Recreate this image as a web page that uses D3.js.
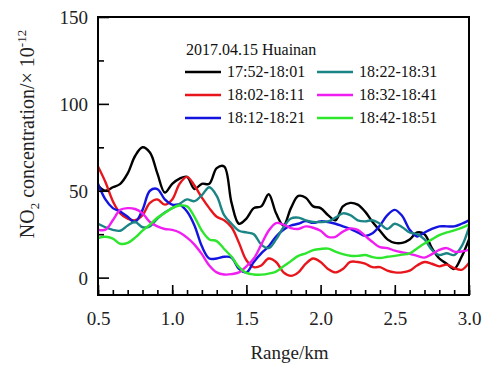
<!DOCTYPE html>
<html>
<head>
<meta charset="utf-8">
<script src="https://cdn.jsdelivr.net/npm/d3@7"></script>
<style>
  body { margin: 0; background: #fff; }
  svg { font-family: "Liberation Serif", "Times New Roman", serif; }
  .axis path { display: none; }
  .axis line { stroke: #000; stroke-width: 1.6; }
  .axis text { font-size: 19px; fill: #222; font-family: "Liberation Serif", serif; }
  .legend text { font-size: 16px; fill: #111; }
</style>
</head>
<body>
<script>
// range in km, sampled every 0.05
const range = d3.range(51).map(i => +(0.5 + i * 0.05).toFixed(2));

const seriesNames = ["17:52-18:01", "18:02-18:11", "18:12-18:21", "18:22-18:31", "18:32-18:41", "18:42-18:51"];
const seriesColors = ["#000000", "#e8161c", "#1414e0", "#1b8585", "#f01ef0", "#2ee62e"];

const black = [53, 50, 52, 54, 60, 70, 75, 72, 60, 49, 54, 57, 58, 51, 54, 54, 63, 64, 43, 31,
  34, 40, 41, 48, 37, 30, 40, 47, 46, 41, 40, 36, 33, 41, 43, 42, 38, 32, 27, 22,
  20, 20, 22, 26, 25, 17, 11, 8, 5, 12, 22];
const red = [64, 55, 44, 37, 34, 33, 36, 43, 45, 42, 45, 54, 58, 53, 46, 40, 35, 33, 29, 20,
  10, 6, 7, 11, 9, 3, 1, 3, 8, 11, 9, 5, 3, 5, 9, 9, 8, 6, 6, 4,
  3, 3, 4, 7, 9, 8, 6.5, 7.5, 5.5, 4.5, 8.5];
const blue = [54, 45, 40, 38, 35, 32, 39, 50, 51, 45, 42, 42, 38, 30, 18, 11, 11, 12, 11.5, 5,
  3, 9, 14, 18, 23.7, 27.6, 30, 31, 32.5, 31.5, 32.4, 32, 31, 29.5, 28, 26, 24, 25.5, 30, 36,
  39, 35.5, 27.6, 23.7, 26, 28, 29.5, 29.5, 29.5, 31, 33];
const teal = [31, 29, 27.5, 27, 30, 32, 29, 29.5, 34, 37.5, 40, 42.5, 45, 44, 47.5, 52, 47, 36, 31, 27,
  26, 25, 19, 17, 22, 29, 34, 34.5, 33, 32, 32, 32.4, 34.5, 37, 36, 33, 32.4, 33, 31, 28,
  31, 29, 26, 25, 22, 16, 13, 14, 13, 18, 29];
const magenta = [27.6, 27.6, 33, 39, 40, 39.5, 37, 32, 29.5, 28, 27.5, 26, 23, 19, 13.5, 7, 3, 1.8, 2, 3,
  6.5, 11, 19, 27, 31.4, 30.5, 28.5, 28, 29.5, 28.7, 27, 23.5, 23.5, 26.5, 28.3, 27.5, 24, 20.5, 17.5, 17,
  15.5, 14.5, 13.7, 12.5, 11.5, 13.5, 16, 17, 15, 15, 16];
const green = [22.8, 23.5, 22.5, 19.5, 20, 23, 27, 30.5, 34.5, 37.2, 40, 41.5, 41, 35, 27, 22, 21, 16.5, 12, 6,
  2.7, 1.8, 1.7, 2.3, 3.5, 6.5, 9.5, 12.5, 14, 15.8, 16.5, 16.7, 15, 13.5, 12.6, 12.5, 13, 11.8, 11.3, 12,
  12.5, 13.2, 14, 16.8, 19.6, 22, 24.5, 26, 27.2, 28.6, 30.5];

const seriesValues = [black, red, blue, teal, magenta, green];

const xMajor = [0.5, 1.0, 1.5, 2.0, 2.5, 3.0];
const xMinor = d3.range(26).map(i => +(0.5 + i * 0.1).toFixed(1));
const yMajor = [0, 50, 100, 150];
const yMinor = [25, 75, 125];

const W = 489, H = 367;
const plot = {left: 98, right: 469, top: 17, bottom: 295};

const svg = d3.select("body").append("svg")
  .attr("width", W)
  .attr("height", H);

const x = d3.scaleLinear().domain([0.5, 3.0]).range([plot.left, plot.right]);
const y = d3.scaleLinear().domain([-10, 150]).range([plot.bottom, plot.top]);

svg.append("clipPath").attr("id", "clip")
  .append("rect")
  .attr("x", plot.left).attr("y", plot.top)
  .attr("width", plot.right - plot.left).attr("height", plot.bottom - plot.top);

const line = d3.line()
  .x((d, i) => x(range[i]))
  .y(d => y(d))
  .curve(d3.curveCatmullRom.alpha(0.5));

const lines = svg.append("g").attr("clip-path", "url(#clip)");
seriesValues.forEach((vals, k) => {
  lines.append("path")
    .attr("d", line(vals))
    .attr("fill", "none")
    .attr("stroke", seriesColors[k])
    .attr("stroke-width", 2.4)
    .attr("stroke-linejoin", "round");
});

// axes, ticks pointing inward
svg.append("g").attr("class", "axis")
  .attr("transform", "translate(0," + plot.bottom + ")")
  .call(d3.axisBottom(x).tickValues(xMinor).tickSize(-5).tickFormat(""));
svg.append("g").attr("class", "axis")
  .attr("transform", "translate(0," + plot.bottom + ")")
  .call(d3.axisBottom(x).tickValues(xMajor).tickSize(-10).tickPadding(16).tickFormat(d3.format(".1f")));

svg.append("g").attr("class", "axis")
  .attr("transform", "translate(" + plot.left + ",0)")
  .call(d3.axisLeft(y).tickValues(yMinor).tickSize(-6).tickFormat(""));
svg.append("g").attr("class", "axis")
  .attr("transform", "translate(" + plot.left + ",0)")
  .call(d3.axisLeft(y).tickValues(yMajor).tickSize(-11).tickPadding(10).tickFormat(d3.format("d")));

svg.selectAll(".axis text").attr("dy", "0.35em");
svg.selectAll(".axis").filter((d, i) => i === 1).selectAll("text").attr("dy", "0.75em");

// frame
svg.append("rect")
  .attr("x", plot.left).attr("y", plot.top)
  .attr("width", plot.right - plot.left).attr("height", plot.bottom - plot.top)
  .attr("fill", "none").attr("stroke", "#000").attr("stroke-width", 2);

// axis titles
svg.append("text")
  .attr("x", (plot.left + plot.right) / 2 + 6)
  .attr("y", 359)
  .attr("text-anchor", "middle")
  .style("font-size", "19px")
  .style("fill", "#222")
  .text("Range/km");

const yt = svg.append("text")
  .attr("transform", "translate(34,134) rotate(-90)")
  .attr("text-anchor", "middle")
  .style("font-size", "20px")
  .style("fill", "#222");
yt.append("tspan").text("NO");
yt.append("tspan").attr("dy", 5).style("font-size", "13px").text("2");
yt.append("tspan").attr("dy", -5).text(" concentration/× 10");
yt.append("tspan").attr("dy", -8).style("font-size", "13px").text("-12");

// legend
const legend = svg.append("g").attr("class", "legend");
legend.append("text").attr("x", 186).attr("y", 55).text("2017.04.15 Huainan");
const cols = [185, 317], rows = [72, 95, 118];
seriesNames.forEach((name, k) => {
  const cx = cols[Math.floor(k / 3)], cy = rows[k % 3];
  legend.append("line")
    .attr("x1", cx).attr("x2", cx + 36)
    .attr("y1", cy).attr("y2", cy)
    .attr("stroke", seriesColors[k]).attr("stroke-width", 2.6);
  legend.append("text")
    .attr("x", cx + 42).attr("y", cy + 5)
    .text(name);
});
</script>
</body>
</html>
